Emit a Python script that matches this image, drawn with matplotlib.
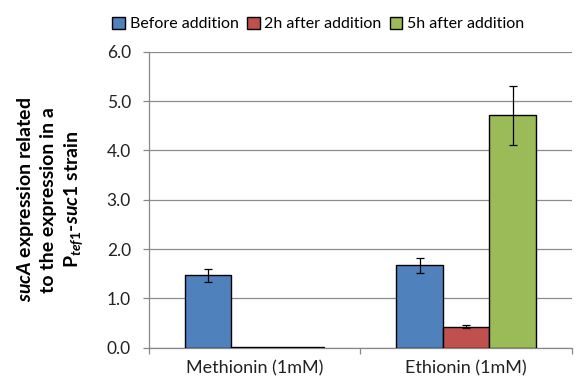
import numpy as np
import matplotlib
matplotlib.use("Agg")
import matplotlib.pyplot as plt
from matplotlib.ticker import FixedLocator

plt.rcParams['font.family'] = ['Lato', 'DejaVu Sans']
plt.rcParams['mathtext.fontset'] = 'custom'
plt.rcParams['mathtext.rm'] = 'Lato:bold'
plt.rcParams['mathtext.it'] = 'Lato:bold:italic'
plt.rcParams['mathtext.bf'] = 'Lato:bold'

categories = ["Methionin (1mM)", "Ethionin (1mM)"]
series_names = ["Before addition", "2h after addition", "5h after addition"]
before = [1.47, 1.67]
before_err = [0.13, 0.16]
after_2h = [0.02, 0.43]
after_2h_err = [0.0, 0.03]
after_5h = [0.01, 4.71]
after_5h_err = [0.0, 0.59]
yticks = [0.0, 1.0, 2.0, 3.0, 4.0, 5.0, 6.0]

colors = ["#4F81BD", "#C0504D", "#9BBB59"]

fig = plt.figure(figsize=(5.84, 3.82), dpi=100)
ax = fig.add_axes([0.255, 0.0895, 0.724, 0.775])

x = np.arange(len(categories))
w = 0.22
values = [before, after_2h, after_5h]
errs = [before_err, after_2h_err, after_5h_err]
handles = []
for i, (vals, err, c, name) in enumerate(zip(values, errs, colors, series_names)):
    pos = x + (i - 1) * w
    b = ax.bar(pos, vals, width=w, color=c, edgecolor="black", linewidth=1.0,
               label=name, zorder=3)
    handles.append(b)
    e = np.array(err)
    mask = e > 0
    ax.errorbar(pos[mask], np.array(vals)[mask], yerr=e[mask], fmt="none",
                ecolor="black", elinewidth=0.9, capsize=3, capthick=0.9, zorder=4)

ax.set_xlim(-0.5, 1.5)
ax.set_ylim(0, 6.0)
ax.set_yticks(yticks)
ax.set_yticklabels([f"{v:.1f}" for v in yticks], fontsize=12.5, color="#222222")
ax.set_xticks(x)
ax.set_xticklabels(categories, fontsize=13, color="#222222")
ax.tick_params(axis="x", which="major", length=0, pad=9)
ax.xaxis.set_minor_locator(FixedLocator([-0.5, 0.5, 1.5]))
ax.tick_params(axis="x", which="minor", length=4.5, color="#888888", width=0.9)
ax.tick_params(axis="y", length=4, color="#888888", width=0.9, pad=9)

ax.yaxis.grid(True, color="#8c8c8c", linewidth=0.9, zorder=0)
ax.set_axisbelow(True)
for s in ["top", "right"]:
    ax.spines[s].set_visible(False)
ax.spines["left"].set_color("#888888")
ax.spines["bottom"].set_color("#888888")
ax.spines["left"].set_linewidth(0.9)
ax.spines["bottom"].set_linewidth(0.9)

ax.set_ylabel("$\\mathit{sucA}$ expression related\nto the expression in a\nP$_{\\mathit{tef1}}$-$\\mathit{suc1}$ strain",
              fontsize=14, fontweight="bold", linespacing=1.3, labelpad=15)

fig.legend(handles=handles, labels=series_names, loc="center", bbox_to_anchor=(0.545, 0.937),
           ncol=3, frameon=False, fontsize=11.5, handlelength=0.8, handleheight=0.8,
           handletextpad=0.3, columnspacing=0.5, borderaxespad=0)

fig.savefig("out.png", dpi=100)
